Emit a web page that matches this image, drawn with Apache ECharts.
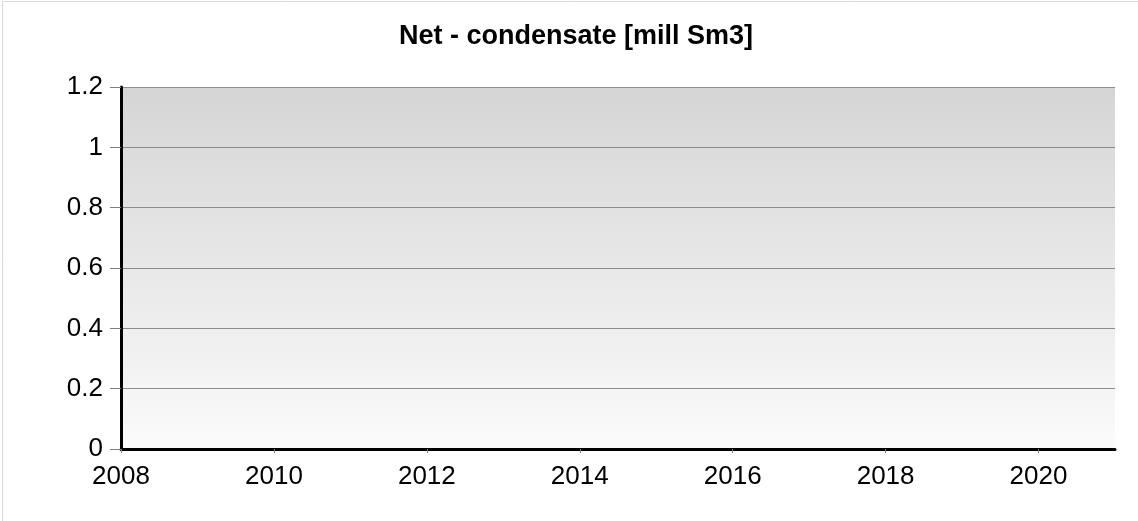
<!DOCTYPE html>
<html>
<head>
<meta charset="utf-8">
<script src="https://cdn.jsdelivr.net/npm/echarts@6/dist/echarts.min.js"></script>
<style>
html,body{margin:0;padding:0;background:#fff;}
#chart{width:1138px;height:521px;}
</style>
</head>
<body>
<div id="chart"></div>
<script>
// Chart content
var titleText = 'Net - condensate [mill Sm3]';
var xTicks = [2008, 2010, 2012, 2014, 2016, 2018, 2020];
var yTicks = [0, 0.2, 0.4, 0.6, 0.8, 1, 1.2];
var xMin = 2008, xMax = 2021;
var yMin = 0, yMax = 1.2;
// No data points are plotted in the reference chart
var years = [];
var condensate = [];

var seriesData = years.map(function (y, i) { return [y, condensate[i]]; });

var chart = echarts.init(document.getElementById('chart'));
var font = 'Liberation Sans, Arial, sans-serif';
chart.setOption({
  animation: false,
  backgroundColor: '#ffffff',
  title: {
    text: titleText,
    left: 571,
    top: 18,
    textAlign: 'center',
    textStyle: { fontFamily: font, fontSize: 27, fontWeight: 'bold', color: '#000' }
  },
  graphic: [{
    type: 'rect',
    shape: { x: 2.5, y: 1.5, width: 1300, height: 700 },
    style: { fill: 'none', stroke: '#d9d9d9', lineWidth: 1 },
    silent: true
  }],
  grid: {
    left: 121, top: 87, right: 23, bottom: 72,
    show: true,
    borderWidth: 0,
    backgroundColor: new echarts.graphic.LinearGradient(0, 0, 0, 1, [
      { offset: 0, color: '#d5d5d5' },
      { offset: 1, color: '#fbfbfb' }
    ])
  },
  xAxis: {
    type: 'value',
    min: xMin, max: xMax, interval: 2,
    axisLine: { show: true, lineStyle: { color: '#000', width: 3 } },
    axisTick: { show: true, length: 4, customValues: xTicks, lineStyle: { color: '#808080' } },
    axisLabel: {
      customValues: xTicks, margin: 15,
      fontFamily: font, fontSize: 26, color: '#000',
      formatter: function (v) { return String(v); }
    },
    splitLine: { show: false }
  },
  yAxis: {
    type: 'value',
    min: yMin, max: yMax, interval: 0.2,
    axisLine: { show: true, lineStyle: { color: '#000', width: 3 } },
    axisTick: { show: true, length: 11, customValues: yTicks, lineStyle: { color: '#808080' } },
    axisLabel: {
      customValues: yTicks, margin: 18,
      fontFamily: font, fontSize: 26, color: '#000',
      formatter: function (v) { return String(Math.round(v * 10) / 10); }
    },
    splitLine: { show: true, lineStyle: { color: '#8c8c8c', width: 1 } }
  },
  series: [{
    type: 'line',
    data: seriesData,
    symbol: 'none',
    lineStyle: { color: '#1f4e9c', width: 2 }
  }]
});
</script>
</body>
</html>
